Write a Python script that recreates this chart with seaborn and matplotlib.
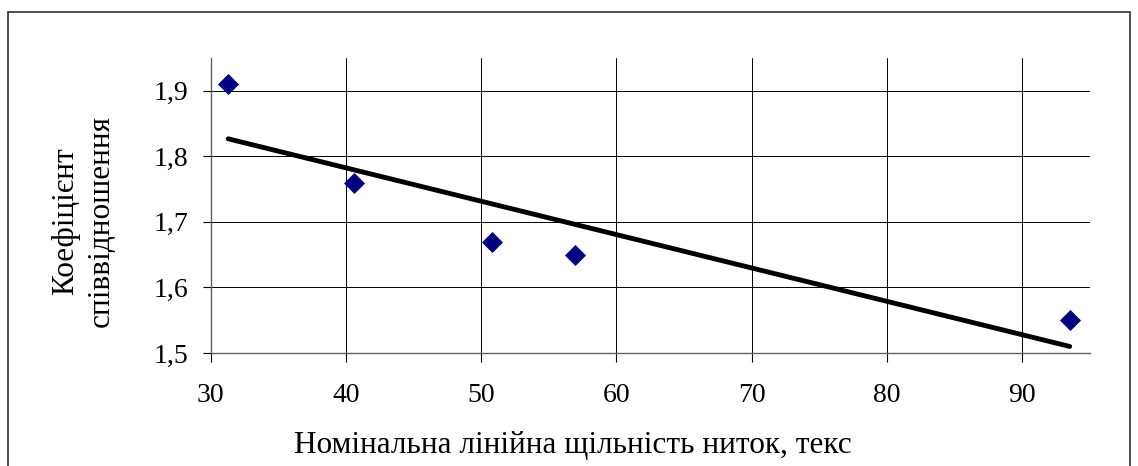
import numpy as np
import pandas as pd
import matplotlib
matplotlib.use("Agg")
import matplotlib.pyplot as plt
import seaborn as sns
from matplotlib.patches import Rectangle

# values
density = [31.3, 40.6, 50.8, 56.9, 93.5]        # номінальна лінійна щільність, текс
ratio = [1.91, 1.76, 1.67, 1.65, 1.55]          # коефіцієнт співвідношення
x_ticks = [30, 40, 50, 60, 70, 80, 90]
y_ticks = [1.5, 1.6, 1.7, 1.8, 1.9]
y_tick_labels = ["1,5", "1,6", "1,7", "1,8", "1,9"]

df = pd.DataFrame({"density": density, "ratio": ratio})

sns.set_style("white")
plt.rcParams["font.family"] = ["Liberation Serif", "DejaVu Serif"]
plt.rcParams["text.color"] = "black"
plt.rcParams["xtick.color"] = "black"
plt.rcParams["ytick.color"] = "black"

fig = plt.figure(figsize=(11.38, 4.66), dpi=100)
ax = fig.add_axes([0.1851, 0.2425, 0.9578 - 0.1851, 0.8755 - 0.2425])

sns.regplot(data=df, x="density", y="ratio", ci=None, ax=ax,
            marker="D", color="black",
            scatter_kws={"s": 115, "color": "#000080", "alpha": 1,
                         "zorder": 3, "linewidths": 0},
            line_kws={"color": "black", "lw": 3.5, "zorder": 2})

ax.set_xlim(30, 95)
ax.set_ylim(1.5, 1.95)
ax.set_xticks(x_ticks)
ax.set_yticks(y_ticks)
ax.set_yticklabels(y_tick_labels)
ax.grid(True, color="black", lw=0.7, zorder=0)
ax.set_axisbelow(True)

for s in ["top", "right"]:
    ax.spines[s].set_visible(False)
for s in ["left", "bottom"]:
    ax.spines[s].set_color("#606060")
    ax.spines[s].set_linewidth(1.0)

ax.tick_params(axis="x", direction="out", length=6.5, width=0.8, color="black",
               pad=15, labelsize=20, bottom=True)
ax.tick_params(axis="y", direction="out", length=6, width=0.8, color="black",
               pad=10, labelsize=20, left=True)

ax.set_xlabel("")
ax.set_ylabel("")
fig.text(573 / 1138, 1 - 446 / 466, "Номінальна лінійна щільність ниток, текс",
         ha="center", va="center", fontsize=22.5)
fig.text(83 / 1138, 1 - 221 / 466, "Коефіцієнт\nспіввідношення",
         ha="center", va="center", rotation=90, fontsize=22.5,
         multialignment="center", linespacing=1.3)

# outer frame
fig.patches.append(Rectangle((8 / 1138, -0.05), (1130 - 8) / 1138, 1.05 - 12 / 466,
                             transform=fig.transFigure, fill=False,
                             edgecolor="#303030", lw=1.2))

fig.savefig("out.png", dpi=100)
